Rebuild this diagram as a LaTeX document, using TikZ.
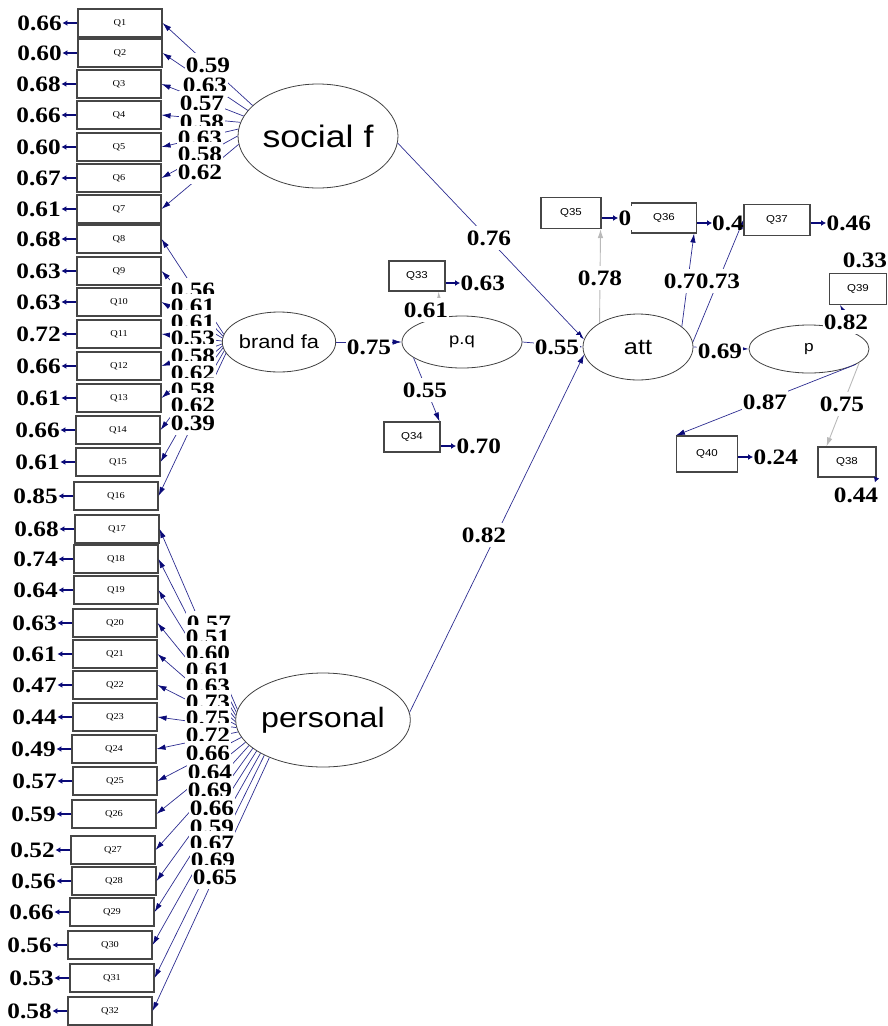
\documentclass[tikz,border=0pt]{standalone}
\usepackage{fontspec}
\usetikzlibrary{shapes.geometric,arrows.meta}
\newfontfamily\numf{Liberation Serif}[FakeStretch=1.15]
\newfontfamily\sansf{Liberation Sans}[FakeStretch=1.15]
\newfontfamily\serf{Liberation Serif}[FakeStretch=1.15]
\definecolor{navyln}{RGB}{45,45,145}
\definecolor{navyhd}{RGB}{10,10,120}
\definecolor{grayln}{RGB}{185,185,185}
\definecolor{boxln}{RGB}{70,70,70}
\begin{document}
\begin{tikzpicture}[x=1pt,y=-1pt,
  lbox/.style={draw=boxln,line width=1.1pt,minimum width=84pt,minimum height=28pt,inner sep=0pt,font=\serf\fontsize{9}{9}\selectfont},
  rbox/.style={draw=boxln,line width=1.1pt,minimum height=30pt,inner sep=0pt,font=\sansf\fontsize{10}{10}\selectfont},
  lat/.style={ellipse,draw=black!75,line width=0.8pt,inner sep=0pt},
  num/.style={fill=white,inner xsep=0.5pt,inner ysep=5pt,font=\numf\bfseries\fontsize{22}{22}\selectfont,text=black},
  load/.style={navyln,line width=0.7pt,-{Latex[length=9pt,width=5.5pt,color=navyhd]}},
  gload/.style={grayln,line width=0.9pt,-{Latex[length=9pt,width=5.5pt]}},
  resid/.style={navyhd,line width=1.4pt,-{Latex[length=5pt,width=6pt]}}
]
\useasboundingbox (0,0) rectangle (887,1026);

% latent variables
\node[lat,minimum width=160pt,minimum height=104pt,font=\sansf\fontsize{31}{31}\selectfont] (sf) at (318,136) {social f};
\node[lat,minimum width=108pt,minimum height=60pt,font=\sansf\fontsize{19}{19}\selectfont] (bf) at (279,342) {brand fa};
\node[lat,minimum width=128pt,minimum height=94pt,font=\sansf\fontsize{28}{28}\selectfont] (pers) at (323,720) {personal};
\node[lat,minimum width=120pt,minimum height=52pt,font=\sansf\fontsize{16}{16}\selectfont] (pq) at (462,342) {p.q};
\node[lat,minimum width=110pt,minimum height=66pt,font=\sansf\fontsize{22}{22}\selectfont] (att) at (638,347) {att};
\node[lat,minimum width=120pt,minimum height=48pt,font=\sansf\fontsize{15}{15}\selectfont] (p) at (809,349) {p};

% left indicators with residuals
\foreach \i/\bx/\by/\r in {1/120/23/0.66, 2/120/53/0.60, 3/119/84/0.68, 4/119/115/0.66,
  5/119/147/0.60, 6/119/178/0.67, 7/119/209/0.61, 8/119/239/0.68, 9/119/271/0.63,
  10/119/302/0.63, 11/119/334/0.72, 12/119/366/0.66, 13/119/398/0.61, 14/118/430/0.66,
  15/118/462/0.61, 16/116/496/0.85, 17/117/529/0.68, 18/116/559/0.74, 19/116/590/0.64,
  20/115/623/0.63, 21/115/654/0.61, 22/115/685/0.47, 23/115/717/0.44, 24/114/749/0.49,
  25/115/781/0.57, 26/114/814/0.59, 27/113/850/0.52, 28/114/881/0.56, 29/112/912/0.66,
  30/110/945/0.56, 31/112/978/0.53, 32/110/1011/0.58}{
  \node[lbox] (q\i) at (\bx,\by) {Q\i};
  \node[num,anchor=east] (r\i) at ([xshift=-15pt]q\i.west) {\r};
  \draw[resid] (q\i.west) -- (r\i.east);
}

% loadings
\foreach \i/\a in {1/155,2/160,3/165,4/170,5/175,6/180,7/186}
  \draw[load] (sf.\a) -- (q\i.east);
\foreach \i/\a in {8/172,9/174,10/176,11/179,12/182,13/184,14/186,15/189,16/192}
  \draw[load] (bf.\a) -- (q\i.east);
\foreach \i/\a in {17/173,18/175,19/177,20/179,21/181,22/183,23/185,24/188,25/192,
  26/196,27/199,28/202,29/205,30/208,31/211,32/215}
  \draw[load] (pers.\a) -- (q\i.east);

% right indicators
\node[rbox,minimum width=56pt] (q33) at (417,276) {Q33};
\node[rbox,minimum width=56pt] (q34) at (412,437) {Q34};
\node[rbox,minimum width=60pt,minimum height=31pt] (q35) at (571,213) {Q35};
\node[rbox,minimum width=65pt] (q36) at (664,218) {Q36};
\node[rbox,minimum width=66pt,minimum height=31pt] (q37) at (777,220) {Q37};
\node[rbox,minimum width=57pt,minimum height=31pt] (q39) at (858,289) {Q39};
\node[rbox,minimum width=61pt,minimum height=36pt] (q40) at (707,454) {Q40};
\node[rbox,minimum width=58pt] (q38) at (847,462) {Q38};

% structural paths
\draw[load] (sf.-5) -- (att.172);
\draw[load] (pers.5) -- (att.188);
\draw[load] (bf.east) -- (pq.west);
\draw[load] (pq.east) -- (att.west);
\draw[load] (att.east) -- (p.west);
\draw[gload] (pq.132) -- ([xshift=-7pt]q33.south east);
\draw[load] (pq.198) -- ([xshift=-1pt]q34.north east);
\draw[gload] (att.148) -- ([xshift=-1pt]q35.south east);
\draw[load] (att.25) -- ([xshift=-3pt]q36.south east);
\draw[load] (att.5) -- (q37.west);
\draw[load] (p.17) -- ([xshift=11pt]q39.south west);
\draw[load] (p.-18) -- (q40.north west);
\draw[gload] (p.-15) -- ([xshift=9pt]q38.north west);

% right residuals
\node[num,anchor=west] (r33) at (460,283) {0.63};
\draw[resid] (r33.west -| q33.east) -- (r33.west);
\node[num,anchor=west] (r34) at (456,446) {0.70};
\draw[resid] (r34.west -| q34.east) -- (r34.west);
\node[num,anchor=west] (r35) at (618,218) {0};
\draw[resid] (r35.west -| q35.east) -- (r35.west);
\node[num,anchor=west,inner xsep=0pt,fill=none] (r36) at (712,223) {0.4};
\draw[resid] (r36.west -| q36.east) -- (r36.west);
\node[num,anchor=west] (r37) at (826,223) {0.46};
\draw[resid] (r37.west -| q37.east) -- (r37.west);
\node[num,anchor=west] (r40) at (753,457) {0.24};
\draw[resid] (r40.west -| q40.east) -- (r40.west);
\node[num] (r39) at (865,260) {0.33};
\node[num] (r38) at (856,495) {0.44};
\draw[resid] (q38.south east) -- ([xshift=-4pt]r38.north east);

% loading labels
\foreach \v/\lx/\ly [count=\k] in {0.59/208/65, 0.63/205/85, 0.57/202/103, 0.58/202/122,
  0.63/200/138, 0.58/200/154, 0.62/200/172}
  \node[num] (ls\k) at (\lx,\ly) {\v};
\foreach \v/\lx/\ly [count=\k] in {0.56/193/290, 0.61/193/306, 0.61/193/322, 0.53/193/338,
  0.58/193/356, 0.62/193/373, 0.58/193/390, 0.62/193/405, 0.39/193/423}
  \node[num] (lb\k) at (\lx,\ly) {\v};
\foreach \v/\lx/\ly [count=\k] in {0.57/209/623, 0.51/208/637, 0.60/208/653, 0.61/208/670,
  0.63/208/686, 0.73/208/702, 0.75/208/718, 0.72/208/735, 0.66/208/753, 0.64/210/772,
  0.69/210/790, 0.66/212/808, 0.59/212/827, 0.67/212/843, 0.69/213/860, 0.65/215/877}
  \node[num] (lp\k) at (\lx,\ly) {\v};

% structural labels
\node[num] (s1) at (489,238) {0.76};
\node[num] (s2) at (484,535) {0.82};
\node[num] (s3) at (369,347) {0.75};
\node[num] (s4) at (557,347) {0.55};
\node[num] (s5) at (720,351) {0.69};
\node[num] (s6) at (426,310) {0.61};
\node[num] (s7) at (425,390) {0.55};
\node[num] (s8) at (600,278) {0.78};
\node[num] (s9) at (686,281) {0.70};
\node[num] (s10) at (718,281) {0.73};
\node[num] (s11) at (846,322) {0.82};
\node[num] (s12) at (765,402) {0.87};
\node[num] (s13) at (842,404) {0.75};
\end{tikzpicture}
\end{document}
